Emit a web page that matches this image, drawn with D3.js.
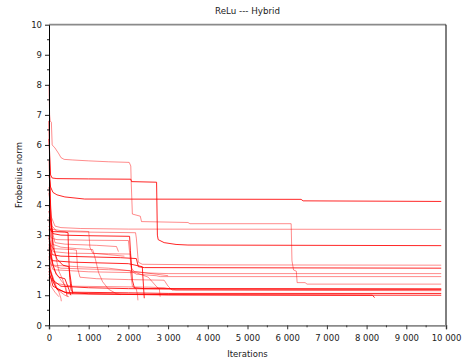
<!DOCTYPE html>
<html>
<head>
<meta charset="utf-8">
<script src="https://cdn.jsdelivr.net/npm/d3@7"></script>
<style>
  body { margin: 0; background: #fff; }
  text { font-family: "DejaVu Sans", sans-serif; fill: #222; }
</style>
</head>
<body>
<div id="chart"></div>
<script>
// chart text
var title = "ReLu --- Hybrid";
var xLabel = "Iterations";
var yLabel = "Frobenius norm";

// axis ticks
var xTicks = [0, 1000, 2000, 3000, 4000, 5000, 6000, 7000, 8000, 9000, 10000];
var xMinorTicks = [500, 1500, 2500, 3500, 4500, 5500, 6500, 7500, 8500, 9500];
var yTicks = [0, 1, 2, 3, 4, 5, 6, 7, 8, 9, 10];
var yMinorTicks = [0.5, 1.5, 2.5, 3.5, 4.5, 5.5, 6.5, 7.5, 8.5, 9.5];

// each run: [iteration, frobenius norm]
var runs = [
  [[0,8.0],[15,7.0],[30,6.8],[60,6.75],[80,6.0],[150,5.9],[250,5.7],[300,5.58],[380,5.52],[600,5.5],[1000,5.47],[1500,5.44],[2020,5.42],[2060,5.3],[2070,4.8],[2100,3.7],[2300,3.63],[2330,3.45],[3500,3.42],[3550,3.38],[6100,3.38],[6120,2.15],[6160,1.84],[6230,1.8],[6250,1.42],[6450,1.42],[6500,1.37],[9880,1.37]],
  [[0,6.2],[40,5.0],[80,4.9],[200,4.88],[1000,4.87],[2060,4.86],[2080,4.78],[2710,4.76],[2730,3.0],[2750,2.85],[2900,2.75],[3200,2.69],[3500,2.67],[9880,2.65]],
  [[0,5.0],[40,4.6],[100,4.42],[200,4.34],[400,4.27],[900,4.2],[6350,4.19],[6400,4.14],[9880,4.12]],
  [[0,4.4],[60,3.6],[150,3.3],[300,3.25],[800,3.22],[2000,3.2],[9880,3.19]],
  [[0,4.0],[80,3.3],[200,3.12],[1000,3.1],[2180,3.08],[2200,2.9],[2250,2.1],[2350,2.03],[4000,2.01],[9880,2.0]],
  [[0,3.8],[100,3.05],[300,3.0],[1000,2.98],[2030,2.96],[2050,2.5],[2100,1.5],[2150,1.25],[2400,1.22],[9880,1.2]],
  [[0,3.5],[60,2.9],[200,2.85],[1000,2.83],[2000,2.82],[2040,2.3],[2080,1.8],[2200,1.7],[2700,1.65],[2800,1.62],[9880,1.62]],
  [[0,3.2],[80,2.7],[300,2.6],[700,2.55],[1100,2.52],[1150,2.3],[1250,1.75],[1350,1.45],[1500,1.2],[1700,1.05],[1800,1.02]],
  [[0,3.0],[100,2.45],[500,2.4],[1500,2.38],[2050,2.37],[2080,1.9],[2150,1.78],[2500,1.74],[3000,1.72],[9880,1.72]],
  [[0,2.9],[80,2.35],[300,2.3],[1800,2.25],[2200,2.22],[2250,1.95],[2400,1.92],[9880,1.9]],
  [[0,3.3],[60,3.12],[400,3.1],[480,3.08],[490,2.5],[520,1.6],[560,1.15],[600,1.1],[2000,1.08],[3000,1.06],[9880,1.06]],
  [[0,2.8],[100,2.55],[600,2.52],[690,2.5],[720,1.9],[780,1.6],[1200,1.55],[2000,1.52],[2900,1.5],[3000,1.3],[3100,1.17],[9880,1.15]],
  [[0,2.6],[60,2.0],[300,1.9],[1500,1.85],[2050,1.82],[2100,1.3],[2200,1.2],[2230,1.0],[2240,0.83]],
  [[0,2.5],[80,2.15],[600,2.1],[2000,2.05],[2350,1.95],[2380,1.3],[2400,0.9]],
  [[0,2.2],[100,1.85],[1000,1.78],[2200,1.75],[2500,1.6],[2700,1.3],[2780,1.2],[2800,0.95]],
  [[0,2.4],[100,2.0],[700,1.95],[1500,1.9],[2400,1.75],[2700,1.7],[3000,1.65]],
  [[0,2.0],[100,1.5],[300,1.3],[1000,1.25],[2000,1.22],[3000,1.21],[9880,1.21]],
  [[0,1.9],[150,1.4],[600,1.3],[2500,1.27],[2900,1.25],[3200,1.18],[9880,1.17]],
  [[0,1.8],[100,1.3],[400,1.1],[1000,1.05],[3000,1.02],[8150,1.0],[8200,0.92]],
  [[0,1.7],[200,1.2],[500,1.05],[3000,1.01],[9880,1.0]],
  [[0,2.3],[50,1.8],[150,1.4],[250,1.1],[300,0.9],[310,0.8]],
  [[0,1.9],[100,1.5],[200,1.2],[400,1.0],[500,0.95]],
  [[0,2.7],[60,2.2],[150,1.8],[300,1.5],[420,1.3],[450,1.0]],
  [[0,1.6],[50,1.3],[150,1.1],[250,0.95]],
  [[0,3.0],[40,2.5],[100,2.0],[180,1.7],[250,1.6],[400,1.55],[500,1.2],[550,1.0]],
  [[0,6.8],[20,5.0],[50,3.5],[100,2.6],[200,2.2],[350,2.0],[500,1.95],[560,1.4],[600,1.05]],
  [[0,5.5],[30,4.2],[80,3.0],[150,2.4],[250,1.8],[350,1.5],[420,1.2],[460,0.95]],
  [[0,3.6],[60,3.2],[300,3.15],[800,3.13],[1000,3.12],[1030,2.6],[1100,2.4],[1500,2.35],[1900,2.3]],
  [[0,4.6],[50,3.3],[150,2.75],[400,2.7],[1200,2.66],[1700,2.62],[1750,2.45]]
];

// runs drawn in full red, the rest in light red
var darkRuns = [1, 2, 5, 9, 10, 13, 16, 18, 19, 24, 25];

// define svg area
var svgWidth = 464;
var svgHeight = 363;

var margin = { top: 24.7, right: 18, bottom: 37.7, left: 49 };
var chartWidth = svgWidth - margin.left - margin.right;
var chartHeight = svgHeight - margin.top - margin.bottom;

var svg = d3.select("#chart")
  .append("svg")
  .attr("width", svgWidth)
  .attr("height", svgHeight);

var chartGroup = svg.append("g")
  .attr("transform", `translate(${margin.left}, ${margin.top})`);

var xScale = d3.scaleLinear().domain([0, 10000]).range([0, chartWidth]);
var yScale = d3.scaleLinear().domain([0, 10]).range([chartHeight, 0]);

// lines
var line = d3.line()
  .x(d => xScale(d[0]))
  .y(d => yScale(d[1]));

chartGroup.selectAll(".run")
  .data(runs)
  .enter()
  .append("path")
  .attr("class", "run")
  .attr("d", line)
  .attr("fill", "none")
  .attr("stroke", "#ff0000")
  .attr("stroke-opacity", (d, i) => darkRuns.includes(i) ? 0.85 : 0.45)
  .attr("stroke-width", 1);

// frame: top grey, right black
chartGroup.append("line")
  .attr("x1", 0).attr("x2", chartWidth)
  .attr("y1", 0).attr("y2", 0)
  .attr("stroke", "#8a8a8a").attr("stroke-width", 1.7);
chartGroup.append("line")
  .attr("x1", chartWidth).attr("x2", chartWidth)
  .attr("y1", 0).attr("y2", chartHeight)
  .attr("stroke", "#000").attr("stroke-width", 1);

// x axis
var fmt = d3.format(",");
var bottomAxis = d3.axisBottom(xScale)
  .tickValues(xTicks)
  .tickSize(4)
  .tickFormat(d => fmt(d).replace(/,/g, " "));
var xAxis = chartGroup.append("g")
  .attr("transform", `translate(0, ${chartHeight})`)
  .call(bottomAxis);
xAxis.select(".domain").attr("stroke", "#8a8a8a").attr("stroke-width", 1.7);
xAxis.selectAll(".tick line").attr("stroke", "#333");
xAxis.selectAll("text")
  .attr("font-size", 8.5)
  .attr("font-family", "DejaVu Sans")
  .attr("fill", "#222")
  .attr("dy", "1.05em");
xAxis.selectAll(".minor")
  .data(xMinorTicks)
  .enter()
  .append("line")
  .attr("class", "minor")
  .attr("x1", d => xScale(d)).attr("x2", d => xScale(d))
  .attr("y1", 0).attr("y2", 2)
  .attr("stroke", "#333");

// y axis
var leftAxis = d3.axisLeft(yScale)
  .tickValues(yTicks)
  .tickSize(4)
  .tickSizeOuter(0)
  .tickFormat(d3.format("d"));
var yAxis = chartGroup.append("g").call(leftAxis);
yAxis.select(".domain").attr("stroke", "#000");
yAxis.selectAll(".tick line").attr("stroke", "#222");
yAxis.selectAll("text")
  .attr("font-size", 8.5)
  .attr("font-family", "DejaVu Sans")
  .attr("fill", "#222")
  .attr("x", -7);
yAxis.selectAll(".minor")
  .data(yMinorTicks)
  .enter()
  .append("line")
  .attr("class", "minor")
  .attr("x1", 0).attr("x2", -2)
  .attr("y1", d => yScale(d)).attr("y2", d => yScale(d))
  .attr("stroke", "#222");

// labels
svg.append("text")
  .attr("x", margin.left + chartWidth / 2)
  .attr("y", 14)
  .attr("text-anchor", "middle")
  .attr("font-size", 8.7)
  .text(title);

svg.append("text")
  .attr("x", margin.left + chartWidth / 2)
  .attr("y", 357)
  .attr("text-anchor", "middle")
  .attr("font-size", 8.5)
  .text(xLabel);

svg.append("text")
  .attr("transform", `translate(22, ${margin.top + chartHeight / 2}) rotate(-90)`)
  .attr("text-anchor", "middle")
  .attr("font-size", 8.5)
  .text(yLabel);
</script>
</body>
</html>
